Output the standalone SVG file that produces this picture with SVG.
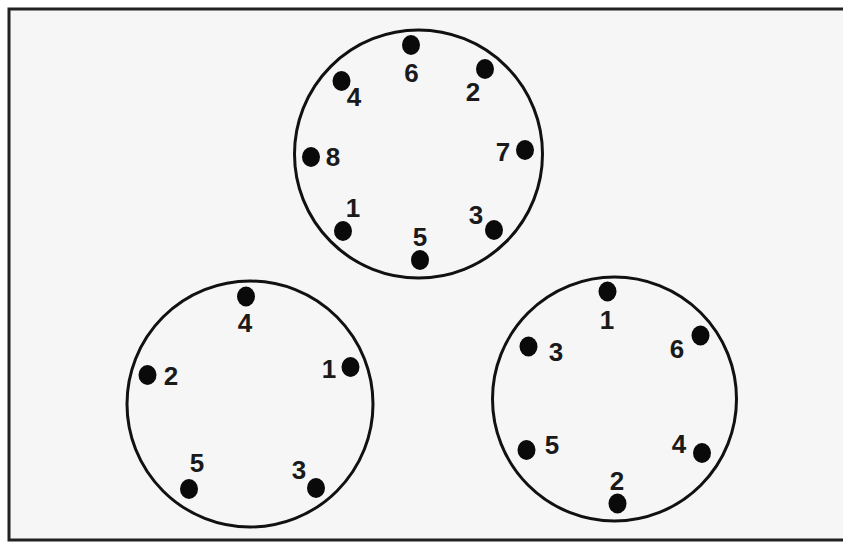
<svg xmlns="http://www.w3.org/2000/svg" width="843" height="542" viewBox="0 0 843 542">
  <style>
    .ring { fill: none; stroke: #111; stroke-width: 3; }
    .pin { fill: #0a0a0a; }
    .lbl { font-family: "Liberation Sans", Arial, sans-serif; font-weight: bold; font-size: 26px; fill: #1a1a1a; text-anchor: middle; }
  </style>
  <rect x="0" y="0" width="843" height="542" fill="#ffffff"/>
  <rect x="9" y="9" width="840" height="531" fill="#f6f6f6" stroke="#222" stroke-width="3"/>

  <g id="connector-top">
    <circle class="ring" cx="418.5" cy="154" r="124"/>
    <ellipse class="pin" cx="411" cy="45" rx="9" ry="10"/>
    <text class="lbl" x="411.5" y="82">6</text>
    <ellipse class="pin" cx="485" cy="69" rx="9" ry="10"/>
    <text class="lbl" x="473" y="101">2</text>
    <ellipse class="pin" cx="341.5" cy="81" rx="9" ry="10"/>
    <text class="lbl" x="354" y="106">4</text>
    <ellipse class="pin" cx="525" cy="150" rx="9" ry="10"/>
    <text class="lbl" x="503" y="161">7</text>
    <ellipse class="pin" cx="311" cy="157" rx="9" ry="10"/>
    <text class="lbl" x="333" y="166">8</text>
    <ellipse class="pin" cx="343" cy="231" rx="9" ry="10"/>
    <text class="lbl" x="353" y="217">1</text>
    <ellipse class="pin" cx="494" cy="230" rx="9" ry="10"/>
    <text class="lbl" x="476" y="224">3</text>
    <ellipse class="pin" cx="420" cy="260" rx="9" ry="10"/>
    <text class="lbl" x="420" y="246">5</text>
  </g>

  <g id="connector-left">
    <circle class="ring" cx="250" cy="404" r="123"/>
    <ellipse class="pin" cx="246" cy="296.5" rx="9" ry="10"/>
    <text class="lbl" x="245" y="332">4</text>
    <ellipse class="pin" cx="147.5" cy="375" rx="9" ry="10"/>
    <text class="lbl" x="171" y="385">2</text>
    <ellipse class="pin" cx="350.5" cy="367" rx="9" ry="10"/>
    <text class="lbl" x="329" y="378">1</text>
    <ellipse class="pin" cx="189" cy="489" rx="9" ry="10"/>
    <text class="lbl" x="197" y="472">5</text>
    <ellipse class="pin" cx="316" cy="488" rx="9" ry="10"/>
    <text class="lbl" x="299" y="479">3</text>
  </g>

  <g id="connector-right">
    <circle class="ring" cx="614.5" cy="399" r="122"/>
    <ellipse class="pin" cx="607.5" cy="291.5" rx="9" ry="10"/>
    <text class="lbl" x="607" y="329">1</text>
    <ellipse class="pin" cx="700.5" cy="335.5" rx="9" ry="10"/>
    <text class="lbl" x="677" y="358">6</text>
    <ellipse class="pin" cx="528.5" cy="346.5" rx="9" ry="10"/>
    <text class="lbl" x="556" y="360.5">3</text>
    <ellipse class="pin" cx="526.5" cy="450" rx="9" ry="10"/>
    <text class="lbl" x="552" y="454">5</text>
    <ellipse class="pin" cx="702" cy="453" rx="9" ry="10"/>
    <text class="lbl" x="679" y="453">4</text>
    <ellipse class="pin" cx="617.5" cy="503.5" rx="9" ry="10"/>
    <text class="lbl" x="617" y="490">2</text>
  </g>

  <g id="connectors"></g>
</svg>
